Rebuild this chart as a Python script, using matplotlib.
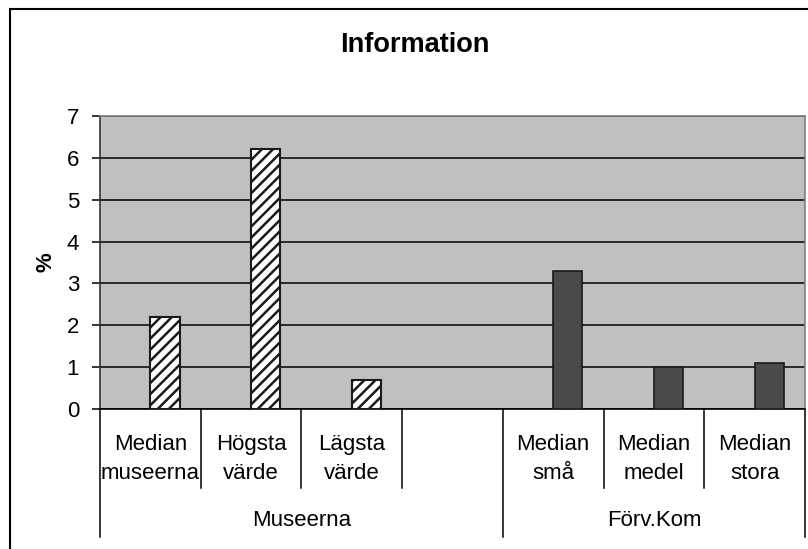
import matplotlib
matplotlib.use("Agg")
import matplotlib.pyplot as plt
from matplotlib.patches import Rectangle

plt.rcParams["font.family"] = ["Liberation Sans", "DejaVu Sans"]
plt.rcParams["hatch.linewidth"] = 1.8

categories = ["Median\nmuseerna", "Högsta\nvärde", "Lägsta\nvärde", "",
              "Median\nsmå", "Median\nmedel", "Median\nstora"]
values = [2.2, 6.2, 0.7, 0, 3.3, 1.0, 1.1]
hatched = [True, True, True, False, False, False, False]
groups = ["Museerna", "Förv.Kom"]
group_spans = [(0, 3), (4, 6)]
yticks = [0, 1, 2, 3, 4, 5, 6, 7]

W, H = 808, 549
fig = plt.figure(figsize=(W / 100, H / 100), dpi=100)
ax = fig.add_axes([100 / W, (H - 409) / H, 705 / W, 293 / H])

x = list(range(len(categories)))
offset = 0.145  # bars sit right of the category centre, like in Excel
for xi, v, h in zip(x, values, hatched):
    if v == 0:
        continue
    if h:
        ax.bar(xi + offset, v, width=0.29, color="white", edgecolor="#1a1a1a",
               hatch="///", linewidth=1.5, zorder=3)
    else:
        ax.bar(xi + offset, v, width=0.29, color="#4a4a4a",
               edgecolor="#1a1a1a", linewidth=1.2, zorder=3)

ax.set_facecolor("#c0c0c0")
ax.set_xlim(-0.5, len(categories) - 0.5)
ax.set_ylim(0, 7)
ax.set_yticks(yticks)
ax.yaxis.grid(True, color="black", linewidth=1.1, zorder=1)
ax.set_axisbelow(True)
ax.tick_params(axis="y", direction="out", length=6, width=1.1, pad=9,
               labelsize=16)
ax.set_xticks([])
for s in ["top", "right"]:
    ax.spines[s].set_color("#808080")
    ax.spines[s].set_linewidth(1.2)
ax.spines["left"].set_color("#333333")
ax.spines["bottom"].set_color("black")
ax.spines["left"].set_linewidth(1.2)
ax.spines["bottom"].set_linewidth(1.2)

ax.set_ylabel("%", fontsize=16, fontweight="bold", labelpad=7)
fig.text(415 / W, (H - 45) / H, "Information", ha="center", va="center",
         fontsize=19.5, fontweight="bold")

# two-level category axis
tr = ax.get_xaxis_transform()
px = 1 / 293
for xi, lab in zip(x, categories):
    if lab:
        ax.text(xi, -(459 - 409) * px, lab, transform=tr, ha="center",
                va="center", fontsize=16, linespacing=1.45, clip_on=False)
for xi in x[:-1]:
    b = xi + 0.5
    is_group = any(abs(b - (e + 0.5)) < 1e-9 for _, e in group_spans[:-1])
    low = 537 if is_group else 488
    ax.plot([b, b], [0, -(low - 409) * px], transform=tr, color="black",
            linewidth=1.1, clip_on=False)
for b in [-0.5, len(categories) - 0.5]:
    ax.plot([b, b], [0, -(537 - 409) * px], transform=tr, color="black",
            linewidth=1.1, clip_on=False)
for g, (s, e) in zip(groups, group_spans):
    gs = s - 0.5
    ge = e + 0.5
    ax.text((gs + ge) / 2, -(521 - 409) * px, g, transform=tr, ha="center",
            va="center", fontsize=16, clip_on=False)

fig.patches.append(Rectangle((9.5 / W, -0.1), 1.2, (H - 9.5) / H + 0.1,
                             transform=fig.transFigure, fill=False,
                             edgecolor="black", linewidth=1.5))

fig.savefig("out.png", dpi=100)
